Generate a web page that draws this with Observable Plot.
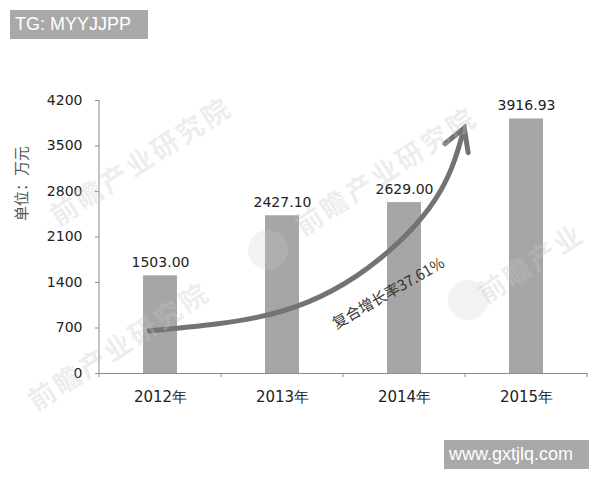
<!DOCTYPE html>
<html><head><meta charset="utf-8">
<script src="https://cdn.jsdelivr.net/npm/d3@7"></script>
<script src="https://cdn.jsdelivr.net/npm/@observablehq/plot@0.6"></script>
<style>
body{margin:0;background:#fff;}
#wrap{position:relative;width:600px;height:480px;overflow:hidden;background:#fff;}
#chart{position:absolute;left:0;top:0;}
.badge{position:absolute;background:#a9a9a9;color:#fff;font-family:"Liberation Sans",Arial,sans-serif;font-size:18px;line-height:29px;height:29px;padding:0 5px;white-space:nowrap;z-index:3;}
.wm{position:absolute;font-family:"Noto Sans CJK SC",sans-serif;font-weight:700;font-size:27px;letter-spacing:3px;color:rgba(200,200,200,0.32);white-space:nowrap;transform:translate(-50%,-50%) rotate(-33deg);pointer-events:none;z-index:2;}
.wmc{position:absolute;width:40px;height:40px;border-radius:50%;background:rgba(205,205,205,0.25);transform:translate(-50%,-50%);z-index:2;}
</style></head><body>
<div id="wrap">
<div id="chart"></div>
<div class="wm" style="left:140px;top:160px;">前瞻产业研究院</div>
<div class="wm" style="left:385px;top:170px;">前瞻产业研究院</div>
<div class="wm" style="left:118px;top:345px;">前瞻产业研究院</div>
<div class="wm" style="left:530px;top:262px;">前瞻产业</div>
<div class="wmc" style="left:268px;top:250px;"></div>
<div class="wmc" style="left:468px;top:300px;"></div>
<div class="badge" style="left:10px;top:10px;width:128px;">TG: MYYJJPP</div>
<div class="badge" style="left:444px;top:440px;width:135px;">www.gxtjlq.com</div>
</div>
<script>
const years = ["2012年", "2013年", "2014年", "2015年"];
const values = [1503.00, 2427.10, 2629.00, 3916.93];
const valueLabels = ["1503.00", "2427.10", "2629.00", "3916.93"];
const yTicks = [0, 700, 1400, 2100, 2800, 3500, 4200];
const yLabel = "单位：万元";
const cagrLabel = "复合增长率37.61%";
const cagrYear = "2014年";
const cagrValue = 1230;
// arrow path: position in category steps (0.5 = centre of first category) and value
const arrowPos = [0.393, 1.505, 2.299, 2.789, 2.994];
const arrowVal = [646, 954, 1754, 2769, 3769];

const table = years.map((y, i) => ({year: y, value: values[i], label: valueLabels[i]}));

function decorations(index, scales, channels, dims) {
  const x = scales.x, y = scales.y;
  const bw = typeof x.bandwidth === "function" ? x.bandwidth() : (x.bandwidth || 0);
  const step = x(years[1]) - x(years[0]);
  const c0 = x(years[0]) + bw / 2;
  const y0 = y(0);
  const g = d3.create("svg:g");
  g.append("line").attr("x1", dims.marginLeft).attr("x2", dims.marginLeft)
    .attr("y1", y(yTicks[yTicks.length - 1])).attr("y2", y0).attr("stroke", "#8c8c8c");
  for (let i = 0; i <= years.length; i++) {
    const bx = c0 + (i - 0.5) * step;
    g.append("line").attr("x1", bx).attr("x2", bx).attr("y1", y0).attr("y2", y0 + 4).attr("stroke", "#8c8c8c");
  }
  const pts = arrowPos.map((p, i) => [c0 + (p - 0.5) * step, y(arrowVal[i])]);
  g.append("path").attr("d", d3.line().curve(d3.curveNatural)(pts))
    .attr("fill", "none").attr("stroke", "#737373").attr("stroke-width", 5);
  const tip = pts[pts.length - 1], prev = pts[pts.length - 2];
  const ang = Math.atan2(tip[1] - prev[1], tip[0] - prev[0]);
  const L = 25, a = Math.PI / 6;
  const w1 = [tip[0] - L * Math.cos(ang - a), tip[1] - L * Math.sin(ang - a)];
  const w2 = [tip[0] - L * Math.cos(ang + a), tip[1] - L * Math.sin(ang + a)];
  g.append("path").attr("d", `M${w1}L${tip}L${w2}`)
    .attr("fill", "none").attr("stroke", "#737373").attr("stroke-width", 5)
    .attr("stroke-linejoin", "miter").attr("stroke-linecap", "round");
  return g.node();
}

const chart = Plot.plot({
  width: 600,
  height: 480,
  marginLeft: 99,
  marginRight: 12,
  marginTop: 100,
  marginBottom: 107,
  style: {fontFamily: "'DejaVu Sans', sans-serif", fontSize: "14px", color: "#222", background: "transparent"},
  x: {domain: years, paddingInner: 0.72, paddingOuter: 0.36, axis: null},
  y: {domain: [0, 4200], axis: null},
  marks: [
    Plot.barY(table, {x: "year", y: "value", fill: "#a6a6a6"}),
    Plot.ruleY([0], {stroke: "#8c8c8c"}),
    Plot.axisY({ticks: yTicks, tickFormat: d => String(d), tickSize: 4, tickPadding: 13, label: null, stroke: "#8c8c8c", fill: "#222", fontSize: 14}),
    Plot.axisX({tickSize: 0, tickPadding: 18, label: null, fill: "#222", fontSize: 15}),
    Plot.text(table, {x: "year", y: "value", text: "label", dy: -13, fontSize: 14, fill: "#222"}),
    Plot.text([yLabel], {frameAnchor: "left", text: d => d, dx: -77, dy: -16, rotate: -90, fontSize: 15, fill: "#555", fontFamily: "'Noto Sans CJK SC', sans-serif"}),
    Plot.text([cagrLabel], {x: () => cagrYear, y: () => cagrValue, text: d => d, rotate: -30, dx: -16, fontSize: 15, fill: "#333", fontFamily: "'Noto Sans CJK SC', sans-serif"}),
    decorations
  ]
});
document.getElementById("chart").appendChild(chart);
</script>
</body></html>
